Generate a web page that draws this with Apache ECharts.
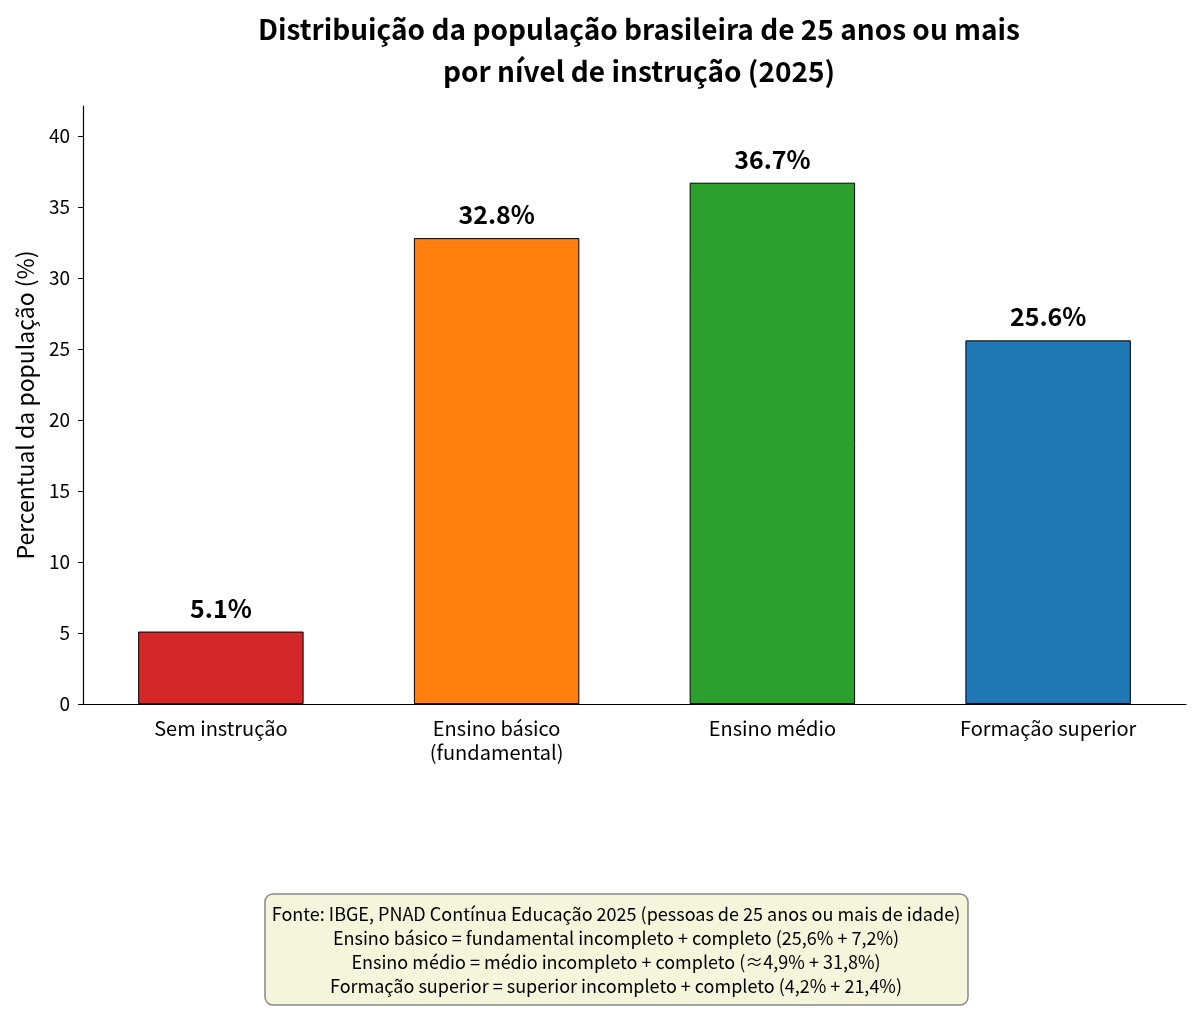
<!DOCTYPE html>
<html>
<head>
<meta charset="utf-8">
<script src="https://cdn.jsdelivr.net/npm/echarts@6/dist/echarts.min.js"></script>
<style>
  html, body { margin: 0; padding: 0; background: #fff; }
  #main { width: 1200px; height: 1011px; }
</style>
</head>
<body>
<div id="main"></div>
<script>
const categories = ['Sem instrução', 'Ensino básico\n(fundamental)', 'Ensino médio', 'Formação superior'];
const values = [5.1, 32.8, 36.7, 25.6];
const barColors = ['#d62728', '#ff7f0e', '#2ca02c', '#1f77b4'];
const noteLines = [
  'Fonte: IBGE, PNAD Contínua Educação 2025 (pessoas de 25 anos ou mais de idade)',
  'Ensino básico = fundamental incompleto + completo (25,6% + 7,2%)',
  'Ensino médio = médio incompleto + completo (≈4,9% + 31,8%)',
  'Formação superior = superior incompleto + completo (4,2% + 21,4%)'
];

const font = '"Noto Sans CJK JP", "Noto Sans", sans-serif';
const chart = echarts.init(document.getElementById('main'));

const option = {
  backgroundColor: '#ffffff',
  animation: false,
  title: {
    text: 'Distribuição da população brasileira de 25 anos ou mais\npor nível de instrução (2025)',
    left: 634,
    top: 3,
    textAlign: 'center',
    textStyle: {
      fontFamily: font,
      fontSize: 28,
      fontWeight: 'bold',
      color: '#000',
      lineHeight: 42
    }
  },
  grid: { left: 83, right: 14, top: 106, bottom: 307 },
  xAxis: {
    type: 'category',
    data: categories,
    axisLine: { lineStyle: { color: '#000', width: 1.2 } },
    axisTick: { alignWithLabel: true, length: 5, lineStyle: { color: '#000' } },
    axisLabel: {
      fontFamily: font,
      fontSize: 20,
      color: '#000',
      margin: 12,
      lineHeight: 24
    }
  },
  yAxis: {
    type: 'value',
    min: 0,
    max: 42.1,
    interval: 5,
    name: 'Percentual da população (%)',
    nameLocation: 'middle',
    nameGap: 46,
    nameTextStyle: { fontFamily: font, fontSize: 23, color: '#000' },
    splitLine: { show: false },
    axisLine: { show: true, lineStyle: { color: '#000', width: 1.2 } },
    axisTick: { show: true, length: 5, lineStyle: { color: '#000' } },
    axisLabel: {
      fontFamily: font,
      fontSize: 19,
      color: '#000',
      margin: 13,
      showMaxLabel: false,
      formatter: v => (v % 5 === 0 ? String(v) : '')
    }
  },
  series: [{
    type: 'bar',
    barWidth: '60%',
    data: values.map((v, i) => ({
      value: v,
      itemStyle: { color: barColors[i], borderColor: '#000', borderWidth: 1 }
    })),
    label: {
      show: true,
      position: 'top',
      distance: 11,
      formatter: p => p.value.toFixed(1) + '%',
      fontFamily: font,
      fontSize: 25,
      fontWeight: 'bold',
      color: '#000'
    }
  }],
  graphic: [
    {
      type: 'rect',
      shape: { x: 265, y: 894, width: 703, height: 111, r: 8 },
      style: { fill: '#f5f5dc', stroke: '#888', lineWidth: 1.5 }
    },
    {
      type: 'text',
      x: 616,
      y: 950,
      style: {
        text: noteLines.join('\n'),
        font: '18px ' + font,
        fill: '#000',
        align: 'center',
        textAlign: 'center',
        verticalAlign: 'middle',
        textVerticalAlign: 'middle',
        lineHeight: 24
      }
    }
  ]
};

chart.setOption(option);
</script>
</body>
</html>
